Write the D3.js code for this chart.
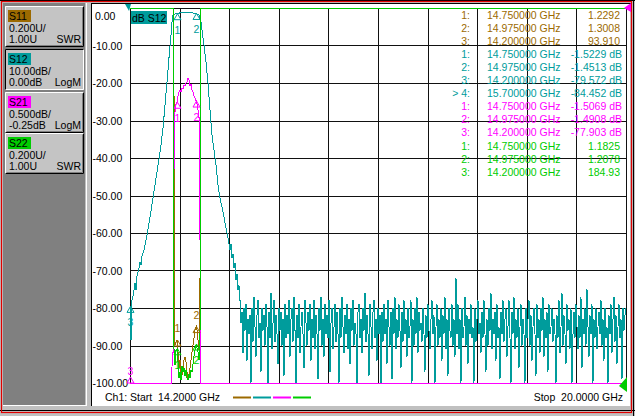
<!DOCTYPE html>
<html><head><meta charset="utf-8">
<script src="https://cdn.jsdelivr.net/npm/d3@7"></script>
<style>
html,body{margin:0;padding:0;background:#c0c0c0;overflow:hidden;}
svg{display:block;font-family:"Liberation Sans",Arial,sans-serif;}
</style></head><body>
<svg id="c" width="635" height="416"></svg>
<script>
// ---------------- data ----------------
const startGHz = 14.2, stopGHz = 20.0;
const dbTicks = [0, -10, -20, -30, -40, -50, -60, -70, -80, -90, -100];

// S12 (dB) skirt + passband
const s12Freq = [14.2000,14.2117,14.2234,14.2351,14.2468,14.2585,14.2702,14.2819,14.2935,14.3052,14.3169,14.3286,14.3403,14.3637,14.3988,14.4339,14.4690,14.5040,14.5391,14.5625,14.5859,14.6093,14.6327,14.6560,14.6794,14.6911,14.7028,14.7262,14.7500,14.7847,14.8431,14.9016,14.9750,15.0069,15.0303,15.0420,15.0653,15.0887,15.1121,15.1355,15.1589,15.1823,15.2056,15.2290,15.2524,15.2875,15.3226,15.3460,15.3694,15.3811,15.3927,15.4044,15.4161,15.4278,15.4395,15.4512,15.4629,15.4746];
const s12Db = [-79.6,-88.5,-77.9,-76.8,-75.2,-73.3,-75.2,-71.5,-70.4,-69.3,-67.7,-68.5,-66.1,-64.5,-60.5,-55.7,-50.7,-45.3,-40.3,-36.5,-32.0,-25.9,-19.7,-13.3,-7.2,-3.7,-1.9,-1.55,-1.52,-1.3,-1.15,-1.2,-1.45,-1.9,-3.7,-5.9,-9.9,-14.4,-20.0,-27.2,-33.9,-37.9,-41.9,-47.2,-50.7,-54.4,-58.7,-61.3,-64.5,-63.0,-66.7,-65.5,-69.3,-68.0,-72.5,-71.0,-75.2,-74.0];
// S12 noise floor, sweep points from 15.4863 GHz to 20 GHz
const s12NoiseStart = 15.4863, s12NoiseStop = 20.0;
const s12Noise = [
-78,-84,-81,-92,-80,-86,-79,-94,-83,-87,-82,-100,-80,-89,-77,-85,-93,-82,-78,-88,-84,-97,-80,-86,
-82,-90,-79,-85,-100,-81,-88,-76,-91,-84,-78,-89,-82,-87,-95,-80,-86,-81,-90,-83,-98,-79,-88,-82,
-87,-78,-93,-83,-80,-89,-77,-86,-100,-82,-88,-79,-92,-85,-81,-87,-96,-78,-84,-90,-81,-86,-79,-94,
-83,-88,-78,-91,-82,-87,-99,-80,-86,-77,-90,-83,-93,-79,-87,-82,-88,-78,-97,-84,-80,-91,-85,-79,
-89,-81,-87,-100,-80,-88,-77,-85,-92,-82,-87,-79,-91,-83,-95,-80,-86,-78,-90,-84,-87,-100,-81,-79,
-88,-83,-92,-80,-86,-76,-89,-82,-87,-98,-79,-85,-91,-81,-78,-88,-83,-94,-80,-87,-82,-100,-81,-89,
-79,-87,-83,-95,-78,-85,-90,-81,-99,-80,-87,-77,-91,-83,-88,-79,-86,-96,-81,-89,-78,-87,-83,-93,
-80,-88,-85,-78,-100,-83,-90,-80,-87,-77,-92,-81,-86,-84,-89,-80,-87,-97,-82,-88,-79,-86,-91,-83,
-78,-87,-82,-100,-85,-79,-90,-83,-88,-80,-94,-82,-87,-77,-91,-83,-98,-80,-86,-88,-79,-90,-83,-93,
-72,-87,-79,-91,-83,-100,-80,-88,-85,-77,-90,-82,-95,-83,-87,-79,-88,-85,-100,-80,-89,-83,-78,-87,
-84,-92,-81,-88,-78,-87,-97,-83,-90,-80,-86,-76,-91,-83,-87,-81,-94,-79,-88,-85,-99,-81,-87,-78,
-89,-83,-80,-93,-85,-78,-88,-100,-81,-87,-77,-91,-83,-88,-80,-96,-85,-79,-90,-83,-87,-100,-80,-88,
-83,-78,-90,-82,-94,-85,-80,-87,-98,-79,-88,-83,-92,-80,-86,-77,-93,-83,-88,-81,-97,-79,-87,-85,
-80,-89,-83,-87,-100,-82,-88,-78,-92,-85,-76,-90,-82,-87,-95,-79,-86,-83,-91,-80,-100,-87,-81,-88,
-79,-85,-91,-82,-88,-77,-96,-83,-87,-80,-90,-75,-85,-93,-82,-87,-79,-100,-83,-88,-80,-91,-85,-81,
-87,-78,-90,-83,-94,-80,-88,-85,-100,-82,-87,-79,-92,-83,-77,-89,-82,-95,-85,-79,-88,-83,-99,-80,
-86,-82,-80];

// S21 (dB)
const s21Freq = [14.2000,14.4339,14.6888,14.6935,14.7087,14.7098,14.7168,14.7262,14.7379,14.7500,14.7613,14.7730,14.7847,14.7964,14.8081,14.8198,14.8315,14.8431,14.8548,14.8665,14.8782,14.8899,14.9016,14.9133,14.9250,14.9367,14.9484,14.9601,14.9750,14.9835,14.9952,15.0069,15.0127,15.0186,15.0233,15.3694,20.0];
const s21Db = [-77.9,-70,-40,-4.84,-4.84,-3.05,-2.12,-1.64,-1.53,-1.5069,-1.42,-1.37,-1.34,-1.37,-1.32,-1.33,-1.28,-1.29,-1.25,-1.24,-1.18,-1.21,-1.29,-1.26,-1.34,-1.37,-1.42,-1.45,-1.4908,-1.53,-1.61,-1.71,-2.28,-3.34,-45,-65,-80];

// S11 (SWR)
const s11Freq = [14.2000,14.7134,14.7181,14.7262,14.7379,14.7500,14.7613,14.7730,14.7847,14.7964,14.8081,14.8198,14.8315,14.8431,14.8548,14.8665,14.8782,14.8899,14.9016,14.9133,14.9250,14.9367,14.9484,14.9601,14.9750,14.9835,14.9952,15.0069,15.0151,15.0186,15.0209,20.0];
const s11Swr = [93.91,60,1.309,1.203,1.219,1.2292,1.165,1.08,1.123,1.059,1.043,1.08,1.123,1.139,1.112,1.059,1.027,1.037,1.08,1.123,1.165,1.203,1.24,1.283,1.3008,1.283,1.229,1.176,1.229,1.44,70,120];

// S22 (SWR)
const s22Freq = [14.2000,14.7040,14.7075,14.7204,14.7262,14.7379,14.7500,14.7613,14.7730,14.7847,14.7964,14.8081,14.8198,14.8315,14.8431,14.8548,14.8665,14.8782,14.8899,14.9016,14.9133,14.9250,14.9367,14.9484,14.9601,14.9750,14.9835,14.9952,15.0069,15.0186,15.0245,20.0];
const s22Swr = [184.93,80,1.203,1.165,1.096,1.176,1.1825,1.112,1.027,1.059,1.016,1.091,1.059,1.08,1.037,1.069,1.027,1.016,1.048,1.027,1.069,1.059,1.101,1.144,1.176,1.2078,1.187,1.165,1.123,1.229,90,150];

// markers
const markerFreqs = [14.75, 14.975, 14.2];
const marker4Freq = 15.7;
const s11Mk = [1.2292, 1.3008, 93.910];
const s12Mk = [-1.5229, -1.4513, -79.572];
const s12Mk4 = -84.452;
const s21Mk = [-1.5069, -1.4908, -77.903];
const s22Mk = [1.1825, 1.2078, 184.93];

// channel boxes
const chanNames = ["S11", "S12", "S21", "S22"];
const chanScale = ["0.200U/", "10.00dB/", "0.500dB/", "0.200U/"];
const chanRef = ["1.00U", "0.00dB", "-0.25dB", "1.00U"];
const chanFmt = ["SWR", "LogM", "LogM", "SWR"];

// ---------------- drawing ----------------
const C = {s11:"#9c6a00", s12:"#009c9c", s21:"#ff00ff", s22:"#00cc00"};
const chanColors = [C.s11, C.s12, C.s21, C.s22];
const loc = d3.formatLocale({decimal:".", thousands:",", grouping:[3], currency:["",""], minus:"-"});
const fmtV = loc.format(".5g"), fmtF = loc.format(".6f"), fmtTick = loc.format(".2f");

const svg = d3.select("#c");
const X0 = 130, X1 = 626, Y0 = 8, Y1 = 383;
const x = d3.scaleLinear().domain([startGHz, stopGHz]).range([X0, X1]);
const yS12 = d3.scaleLinear().domain([0, -100]).range([Y0, Y1]).clamp(true);
const yS21 = d3.scaleLinear().domain([-0.25, -5.25]).range([Y0, Y1]).clamp(true);
const ySwr = d3.scaleLinear().domain([1, 3]).range([Y1, Y0]).clamp(true);

// window chrome
svg.append("rect").attr("width",635).attr("height",416).attr("fill","#c0c0c0");
svg.append("rect").attr("x",3).attr("y",3).attr("width",82).attr("height",402).attr("fill","#808080");
svg.append("line").attr("x1",86.5).attr("x2",86.5).attr("y1",3).attr("y2",406).attr("stroke","#fff");
svg.append("line").attr("x1",3).attr("x2",87).attr("y1",405.5).attr("y2",405.5).attr("stroke","#fff");
svg.append("rect").attr("x",91).attr("y",3).attr("width",539).attr("height",403).attr("fill","#fff");
svg.append("line").attr("x1",91.5).attr("x2",91.5).attr("y1",3).attr("y2",406).attr("stroke","#000");
svg.append("line").attr("x1",91).attr("x2",631).attr("y1",3.5).attr("y2",3.5).attr("stroke","#000");
svg.append("line").attr("x1",0).attr("x2",635).attr("y1",0.5).attr("y2",0.5).attr("stroke","#000");
svg.append("line").attr("x1",0).attr("x2",635).attr("y1",410.5).attr("y2",410.5).attr("stroke","#000");
svg.append("line").attr("x1",633.5).attr("x2",633.5).attr("y1",0).attr("y2",416).attr("stroke","#000");
svg.append("rect").attr("x",1.5).attr("y",1.5).attr("width",630).attr("height",411).attr("fill","none").attr("stroke","#e00000").attr("stroke-width",1.2);

// channel boxes
const boxY = [6, 49, 92, 133];
chanNames.forEach((n, i) => {
  const g = svg.append("g").attr("transform", `translate(5,${boxY[i]})`);
  const w = 79, h = 41, active = i === 1;
  g.append("rect").attr("width",w).attr("height",h).attr("fill","#c4c4c4");
  const tl = active ? "#000" : "#fff", br = active ? "#fff" : "#000";
  g.append("path").attr("d",`M0.5,${h}V0.5H${w}`).attr("fill","none").attr("stroke",tl);
  g.append("path").attr("d",`M0.5,${h-0.5}H${w-0.5}V0.5`).attr("fill","none").attr("stroke",br);
  if (!active) g.append("path").attr("d",`M1.5,${h-1.5}H${w-1.5}V1.5`).attr("fill","none").attr("stroke","#808080");
  g.append("rect").attr("x",3).attr("y",4).attr("width",23).attr("height",12).attr("fill",chanColors[i]);
  g.append("text").attr("x",4).attr("y",14).attr("font-size",10.5).text(n);
  g.append("text").attr("x",4).attr("y",26).attr("font-size",10.5).text(chanScale[i]);
  g.append("text").attr("x",4).attr("y",37).attr("font-size",10.5).text(chanRef[i]);
  g.append("text").attr("x",w-3).attr("y",37).attr("font-size",10.5).attr("text-anchor","end").text(chanFmt[i]);
});

// grid
const divs = d3.range(11).map(i => startGHz + i * (stopGHz - startGHz) / 10);
svg.append("g").selectAll("line").data(divs).join("line")
  .attr("x1", d => Math.round(x(d)) + 0.5).attr("x2", d => Math.round(x(d)) + 0.5)
  .attr("y1", Y0).attr("y2", Y1).attr("stroke", "#111");
svg.append("g").selectAll("line").data(dbTicks).join("line")
  .attr("x1", X0).attr("x2", X1 + 1)
  .attr("y1", d => Math.round(yS12(d)) + 0.5).attr("y2", d => Math.round(yS12(d)) + 0.5)
  .attr("stroke", "#111");

// y labels
svg.append("g").selectAll("text").data(dbTicks).join("text")
  .attr("x", d => d === 0 ? 95 : 92.5)
  .attr("y", d => d === 0 ? 19.5 : yS12(d) + 4)
  .attr("font-size", 10.5).attr("fill", "#000")
  .text(d => fmtTick(d));

// "dB S12" label
svg.append("rect").attr("x",131).attr("y",11).attr("width",36).attr("height",13).attr("fill",C.s12);
svg.append("text").attr("x",132).attr("y",21.5).attr("font-size",10.5).text("dB S12");

// traces
svg.append("clipPath").attr("id","pc").append("rect")
  .attr("x", X0 - 1).attr("y", Y0 - 1).attr("width", X1 - X0 + 3).attr("height", Y1 - Y0 + 2);
const traces = svg.append("g").attr("clip-path", "url(#pc)");
function drawTrace(fr, vals, ys, col) {
  const pts = fr.map((f, i) => [f, vals[i]]);
  traces.append("path").datum(pts)
    .attr("d", d3.line().x(d => x(d[0])).y(d => ys(d[1])))
    .attr("fill", "none").attr("stroke", col).attr("stroke-width", 1)
    .attr("shape-rendering", "crispEdges");
}
const noiseStep = (s12NoiseStop - s12NoiseStart) / (s12Noise.length - 1);
const s12AllF = s12Freq.concat(s12Noise.map((v, i) => s12NoiseStart + i * noiseStep));
const s12AllV = s12Db.concat(s12Noise);
drawTrace(s11Freq, s11Swr, ySwr, C.s11);
drawTrace(s12AllF, s12AllV, yS12, C.s12);
drawTrace(s21Freq, s21Db, yS21, C.s21);
drawTrace(s22Freq, s22Swr, ySwr, C.s22);

// markers (numberAbove: put the number above the triangle)
function drawMarkers(vals, ys, col, numberAbove) {
  vals.forEach((v, i) => {
    const mx = Math.round(x(markerFreqs[i])) + 0.5, my = ys(v);
    if (my <= Y0) return;
    const g = svg.append("g");
    g.append("path").attr("d", `M${mx},${my}L${mx-3.5},${my+6}L${mx+3.5},${my+6}Z`)
      .attr("fill","none").attr("stroke",col)
      .attr("transform", my >= Y1 ? `translate(0,-6)` : null);
    const ty = (numberAbove || my >= Y1) ? my - 8 : my + 20;
    g.append("text").attr("x", mx).attr("y", ty).attr("text-anchor","middle")
      .attr("font-size",10.5).attr("fill",col).text(i + 1);
  });
}
drawMarkers(s11Mk, ySwr, C.s11, true);
drawMarkers(s12Mk, yS12, C.s12, false);
drawMarkers(s21Mk, yS21, C.s21, false);
drawMarkers(s22Mk, ySwr, C.s22, false);

// reference position arrows
svg.append("path").attr("d","M125,4L131,4L129,11Z").attr("fill",C.s12);
svg.append("path").attr("d","M631,3L631,12L624,8Z").attr("fill",C.s21);
svg.append("path").attr("d","M627,377L627,392L619,386Z").attr("fill",C.s22);

// marker readout table
const rows = [];
s11Mk.forEach((v, i) => rows.push({lab:(i+1)+":", f:markerFreqs[i], v:fmtV(v), c:C.s11}));
s12Mk.forEach((v, i) => rows.push({lab:(i+1)+":", f:markerFreqs[i], v:fmtV(v)+" dB", c:C.s12}));
rows.push({lab:"> 4:", f:marker4Freq, v:fmtV(s12Mk4)+" dB", c:C.s12});
s21Mk.forEach((v, i) => rows.push({lab:(i+1)+":", f:markerFreqs[i], v:fmtV(v)+" dB", c:C.s21}));
s22Mk.forEach((v, i) => rows.push({lab:(i+1)+":", f:markerFreqs[i], v:fmtV(v), c:C.s22}));
const tbl = svg.append("g").attr("font-size", 10.5);
rows.forEach((r, i) => {
  const yy = 19 + i * 13.05;
  tbl.append("text").attr("x", 470).attr("y", yy).attr("text-anchor","end").attr("fill", r.c).text(r.lab);
  tbl.append("text").attr("x", 487).attr("y", yy).attr("fill", r.c).text(fmtF(r.f) + " GHz");
  tbl.append("text").attr("x", r.v.endsWith("dB") ? 622 : 620).attr("y", yy).attr("text-anchor","end").attr("fill", r.c).text(r.v);
});

// footer
svg.append("text").attr("x",105).attr("y",401).attr("font-size",10.5).attr("xml:space","preserve")
  .text("Ch1: Start  " + loc.format(".4f")(startGHz) + " GHz");
svg.append("text").attr("x",623).attr("y",401).attr("font-size",10.5).attr("text-anchor","end").attr("xml:space","preserve")
  .text("Stop  " + loc.format(".4f")(stopGHz) + " GHz");
chanColors.forEach((c, i) => {
  svg.append("line").attr("x1", 233 + i * 20).attr("x2", 251 + i * 20).attr("y1", 397.5).attr("y2", 397.5)
    .attr("stroke", c).attr("stroke-width", 2);
});
</script>
</body></html>
